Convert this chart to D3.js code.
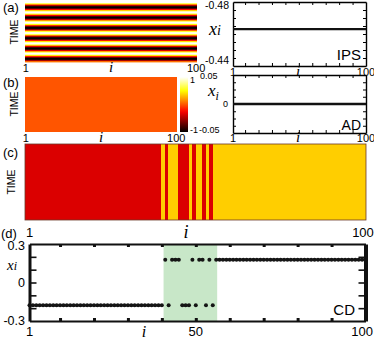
<!DOCTYPE html>
<html>
<head>
<meta charset="utf-8">
<script src="https://d3js.org/d3.v7.min.js"></script>
<style>
  body { margin: 0; background: #fff; }
  svg { display: block; font-family: "Liberation Sans", Arial, sans-serif; }
  .it { font-family: "Liberation Serif", "Times New Roman", serif; font-style: italic; }
</style>
</head>
<body>
<div id="wrapper"></div>
<script>

// 1. Data

const nodes = d3.range(1, 101)

// (a) in-phase synchrony: all nodes share one x_i, heatmap rows follow the time trace
const ipsX = -0.463
const ipsTrace = [0.68, 0.14, -0.46, -0.88, -0.99, -0.74, -0.23, 0.37, 0.84, 1.0,
  0.80, 0.31, -0.29, -0.78, -1.0, -0.85, -0.40, 0.20, 0.72, 0.99,
  0.90, 0.48, -0.11, -0.66, -0.97, -0.94, -0.57, 0.02, 0.59, 0.94,
  0.96, 0.63, 0.08, -0.51, -0.91, -0.98, -0.70, -0.17, 0.43, 0.87,
  1.0, 0.76, 0.26, -0.34, -0.82, -1.0, -0.82, -0.34, 0.26, 0.76,
  1.0, 0.87, 0.43, -0.17, -0.70, -0.98, -0.91, -0.51, 0.08]

// (b) amplitude death
const adX = 0

// (c),(d) chimera death: 0 = lower branch, 1 = upper branch
const cdCluster = ("0000000000" + "0000000000" + "0000000000" + "0000000000" +
  "1011100010" + "1101011111" + "1111111111" + "1111111111" +
  "1111111111" + "1111111111").split("").map(Number)
const cdLevels = [-0.178, 0.178]
const cdBand = [40.5, 56.3]

const ipsTicks = [-0.48, -0.44]
const adTicks = [0.05, 0, -0.05]
const barTicks = [1, -1]
const cdTicks = [0.3, 0, -0.3]
const nodeLabels = [1, 100]
const cdNodeLabels = [1, 50, 100]

// 2. Colours

const hot = t => {
  const c = v => Math.max(0, Math.min(1, v)) * 255
  return d3.rgb(c(t / 0.375), c((t - 0.375) / 0.375), c((t - 0.75) / 0.25)).formatHex()
}
const heatColor = d3.scaleSequential(hot).domain([-1, 1])
const cdColor = d3.scaleSequential(hot).domain([-0.5, 0.5])

// 3. Canvas

const svg = d3.select("#wrapper").append("svg")
    .attr("width", 374)
    .attr("height", 341)

const text = (x, y, s, size, anchor = "middle", cls = null) => svg.append("text")
    .attr("x", x).attr("y", y)
    .attr("font-size", size)
    .attr("text-anchor", anchor)
    .attr("class", cls)
    .text(s)

const timeLabel = (x, y) => svg.append("text")
    .attr("transform", `translate(${x},${y}) rotate(-90)`)
    .attr("font-size", 10.5)
    .attr("text-anchor", "middle")
    .text("TIME")

function box(x, y, xTicks, yTicks, len = 3) {
  const [xl, xr] = x.range()
  const yt = d3.min(y.range()), yb = d3.max(y.range())
  const g = svg.append("g")
  const axes = [
    [d3.axisTop(x).tickValues(xTicks), `translate(0,${yt})`],
    [d3.axisBottom(x).tickValues(xTicks), `translate(0,${yb})`],
    [d3.axisLeft(y).tickValues(yTicks), `translate(${xl},0)`],
    [d3.axisRight(y).tickValues(yTicks), `translate(${xr},0)`],
  ]
  axes.forEach(([axis, tr]) => {
    g.append("g").attr("transform", tr)
        .call(axis.tickSize(-len).tickSizeOuter(0).tickFormat(""))
        .call(a => a.select(".domain").attr("stroke-width", 1.4))
  })
  return g
}

const inner = d3.range(10, 100, 10)

// 4. Panel (a)

text(3, 12, "(a)", 13, "start")
timeLabel(18, 32)

const aX = d3.scaleBand().domain(nodes).range([25, 197])
const aT = d3.scaleBand().domain(d3.range(ipsTrace.length)).range([3, 62])

svg.append("g").selectAll("rect")
  .data(ipsTrace)
  .join("rect")
    .attr("x", aX.range()[0])
    .attr("width", aX.range()[1] - aX.range()[0])
    .attr("y", (d, k) => aT(k))
    .attr("height", aT.bandwidth() + 0.4)
    .attr("fill", d => heatColor(d))

nodeLabels.forEach(n => text(aX(n) + aX.bandwidth() / 2, 72, n, 11))
text(111, 72, "i", 15, "middle", "it")

const aRx = d3.scaleLinear().domain([1, 100]).range([233, 366])
const aRy = d3.scaleLinear().domain([-0.48, -0.44]).range([2, 66])
box(aRx, aRy, inner, d3.range(-0.475, -0.4449, 0.005))

svg.append("line")
    .attr("x1", aRx(1)).attr("x2", aRx(100))
    .attr("y1", aRy(ipsX)).attr("y2", aRy(ipsX))
    .attr("stroke", "#111").attr("stroke-width", 2.2)

text(229, 9, ipsTicks[0], 10.5, "end")
text(229, 64, ipsTicks[1], 10.5, "end")
const axi = text(209, 35, "", 18, "start", "it")
axi.append("tspan").text("x")
axi.append("tspan").attr("font-size", 14).text("i")
text(361, 60, "IPS", 15, "end")
nodeLabels.forEach(n => text(aRx(n), 76, n, 11))
text(298, 76, "i", 15, "middle", "it")

// 5. Panel (b)

text(3, 87, "(b)", 13, "start")
timeLabel(18, 104)

const bX = d3.scaleBand().domain(nodes).range([25, 177])
const bT = [77, 132]

svg.append("g")
    .attr("shape-rendering", "crispEdges")
  .selectAll("rect")
  .data(nodes)
  .join("rect")
    .attr("x", d => bX(d))
    .attr("width", d => bX.bandwidth() + (d < 100 ? 1 : 0))
    .attr("y", bT[0])
    .attr("height", bT[1] - bT[0])
    .attr("fill", heatColor(adX))

const grad = svg.append("defs").append("linearGradient")
    .attr("id", "hot").attr("x1", 0).attr("x2", 0).attr("y1", 1).attr("y2", 0)
grad.selectAll("stop")
  .data(d3.range(0, 1.001, 0.05))
  .join("stop")
    .attr("offset", d => d)
    .attr("stop-color", d => hot(d))

const barY = d3.scaleLinear().domain([-1, 1]).range([bT[1], bT[0]])
svg.append("rect")
    .attr("x", 180).attr("width", 8)
    .attr("y", bT[0]).attr("height", bT[1] - bT[0])
    .attr("fill", "url(#hot)")
barTicks.forEach(v => text(190, barY(v) + (v > 0 ? 6 : 1), v, 9, "start"))

nodeLabels.forEach(n => text(bX(n) + bX.bandwidth() / 2, 142, n, 11))
text(101, 142, "i", 15, "middle", "it")

const bRx = d3.scaleLinear().domain([1, 100]).range([233, 366])
const bRy = d3.scaleLinear().domain([-0.05, 0.05]).range([133, 75])
box(bRx, bRy, inner, d3.range(-0.0375, 0.04, 0.0125))

svg.append("line")
    .attr("x1", bRx(1)).attr("x2", bRx(100))
    .attr("y1", bRy(adX)).attr("y2", bRy(adX))
    .attr("stroke", "#111").attr("stroke-width", 2.4)

text(200, bRy(adTicks[0]) + 4, adTicks[0], 9, "start")
text(228, bRy(adTicks[1]) + 3, adTicks[1], 9, "end")
text(199, bRy(adTicks[2]), adTicks[2], 9, "start")
const bxi = text(208, 96, "", 17, "start", "it")
bxi.append("tspan").text("x")
bxi.append("tspan").attr("font-size", 12).attr("dy", 4).text("i")
text(361, 130, "AD", 14, "end")
nodeLabels.forEach(n => text(bRx(n), 142, n, 11))
text(298, 142, "i", 15, "middle", "it")

// 6. Panel (c)

text(3, 157, "(c)", 13, "start")
timeLabel(15, 182)

const cX = d3.scaleBand().domain(nodes).range([25, 366])
const cT = [144, 220]

svg.append("g")
    .attr("shape-rendering", "crispEdges")
  .selectAll("rect")
  .data(nodes)
  .join("rect")
    .attr("x", d => cX(d))
    .attr("width", d => cX.bandwidth() + (d < 100 ? 0.6 : 0))
    .attr("y", cT[0])
    .attr("height", cT[1] - cT[0])
    .attr("fill", d => cdColor(cdLevels[cdCluster[d - 1]]))

svg.append("rect")
    .attr("x", 25).attr("y", cT[0])
    .attr("width", 341).attr("height", cT[1] - cT[0])
    .attr("fill", "none").attr("stroke", "#6b3a2a").attr("stroke-width", 0.8)

text(26, 237, 1, 13, "start")
text(186, 238, "i", 18, "middle", "it")
text(363, 237, 100, 13)

// 7. Panel (d)

text(1, 238, "(d)", 13, "start")

const dX = d3.scaleLinear().domain([1, 100]).range([29.5, 365.5])
const dY = d3.scaleLinear().domain([-0.3, 0.3]).range([321, 244])

svg.append("rect")
    .attr("x", dX(cdBand[0]))
    .attr("width", dX(cdBand[1]) - dX(cdBand[0]))
    .attr("y", dY(0.3))
    .attr("height", dY(-0.3) - dY(0.3))
    .attr("fill", "#c8e7c8")

// neighbours on the same branch are joined, the rest stay as single dots
const runs = []
nodes.forEach(n => {
  const c = cdCluster[n - 1]
  const last = runs[runs.length - 1]
  if (last && last.c === c) last.nodes.push(n)
  else runs.push({c, nodes: [n]})
})
svg.append("g").selectAll("path")
  .data(runs.filter(r => r.nodes.length > 1))
  .join("path")
    .attr("d", r => d3.line()
      .x(n => dX(n))
      .y(n => dY(cdLevels[r.c]))(r.nodes))
    .attr("stroke", "#151515")
    .attr("stroke-width", 2.4)
    .attr("fill", "none")

svg.append("g").selectAll("circle")
  .data(nodes)
  .join("circle")
    .attr("cx", d => dX(d))
    .attr("cy", d => dY(cdLevels[cdCluster[d - 1]]))
    .attr("r", 2)
    .attr("fill", "#151515")

const dBox = svg.append("g")
const frameSide = [
  [d3.axisTop(dX).tickValues(inner).tickSize(-3), `translate(0,${dY(0.3)})`, 2, 3],
  [d3.axisBottom(dX).tickValues(inner).tickSize(-3), `translate(0,${dY(-0.3)})`, 2, 3],
  [d3.axisLeft(dY).tickValues([-0.2, -0.1, 0, 0.1, 0.2]).tickSize(-7), `translate(${dX(1)},0)`, 3, 1.6],
  [d3.axisRight(dY).tickValues([-0.2, -0.1, 0, 0.1, 0.2]).tickSize(-7), `translate(${dX(100)},0)`, 4, 1.6],
]
frameSide.forEach(([axis, tr, w, tw]) => {
  dBox.append("g").attr("transform", tr)
      .call(axis.tickSizeOuter(0).tickFormat(""))
      .call(a => a.select(".domain").attr("stroke-width", w).attr("stroke", "#111"))
      .call(a => a.selectAll(".tick line").attr("stroke-width", tw).attr("stroke", "#111"))
})

cdTicks.forEach(v => text(25, dY(v) + (v > 0 ? 6 : 4), v, 12.5, "end"))
const dxi = text(7, 270, "", 15, "start", "it")
dxi.append("tspan").text("x")
dxi.append("tspan").attr("font-size", 12).text("i")
text(355, 315, "CD", 15, "end")

cdNodeLabels.forEach(n => text(n === 100 ? 373 : dX(n), 336, n, 13, n === 100 ? "end" : "middle"))
text(144, 337, "i", 16, "middle", "it")

</script>
</body>
</html>
